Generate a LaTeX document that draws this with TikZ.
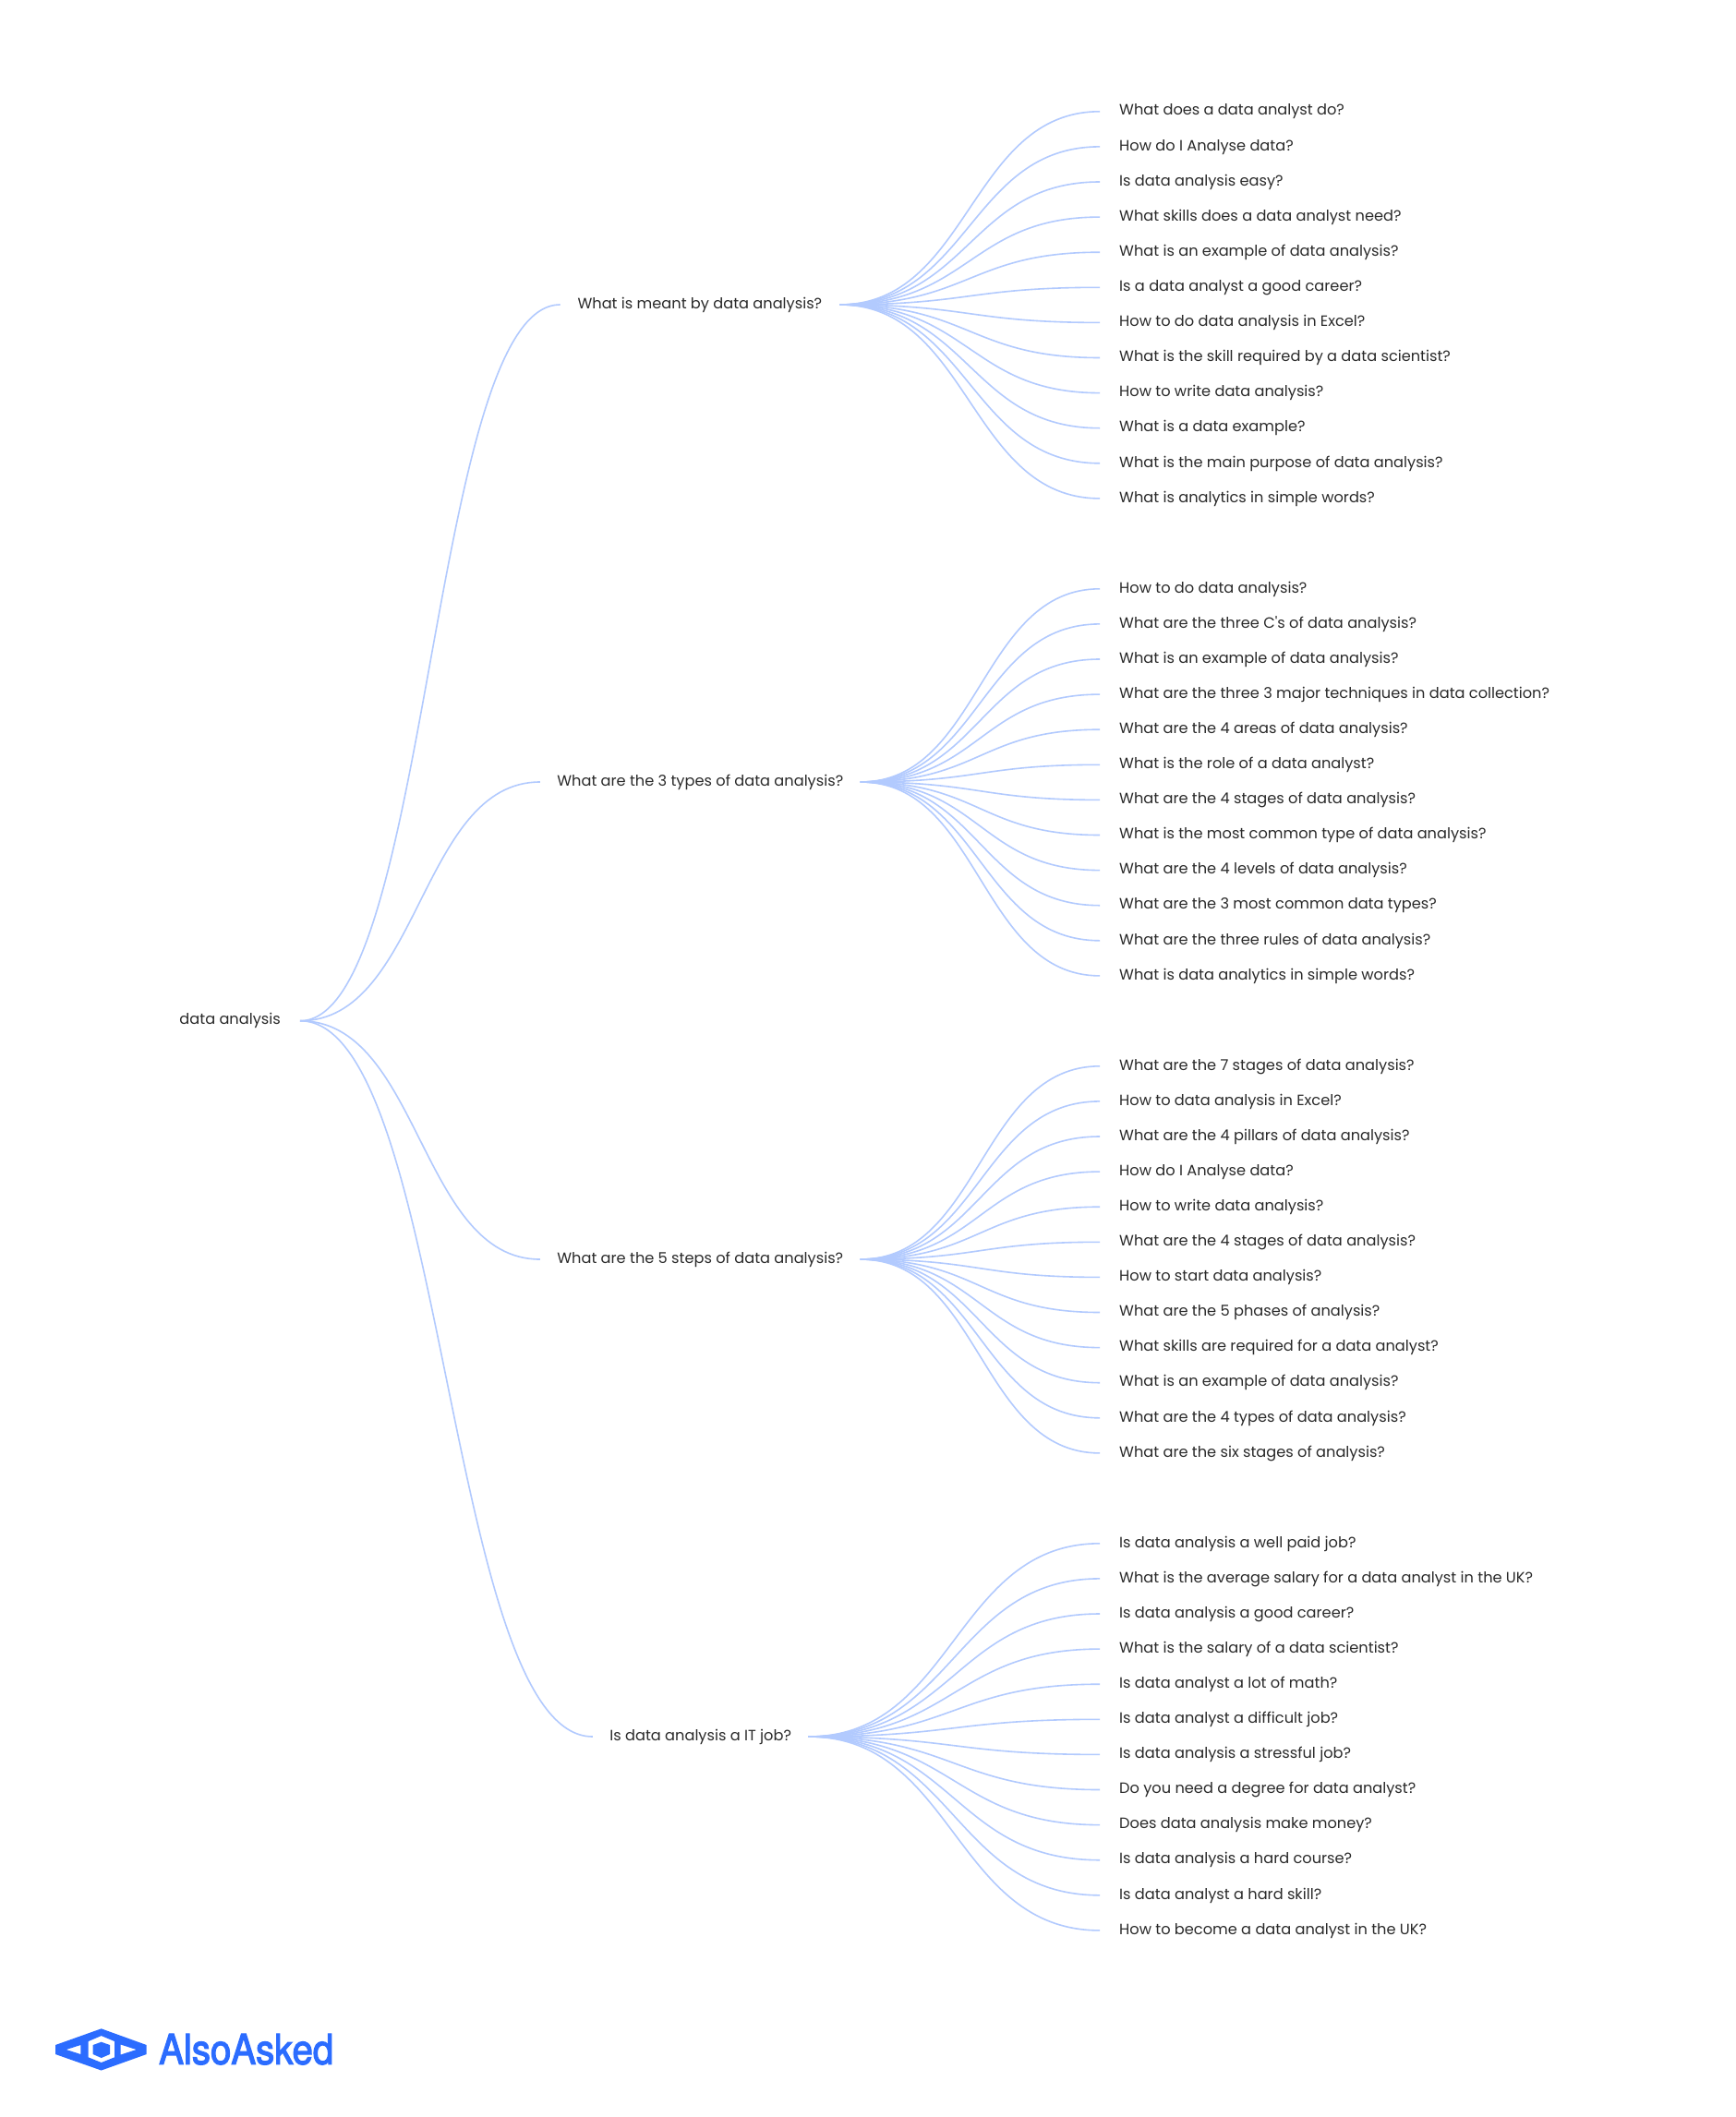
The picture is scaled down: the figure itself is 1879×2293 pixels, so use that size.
\documentclass[tikz,border=0pt]{standalone}
\usepackage{fontspec}
\usetikzlibrary{calc}
\setmainfont[Ligatures=TeXOff]{Poppins}
\newfontfamily\logofont[FakeBold=2.8]{TeX Gyre Heros}
\definecolor{linkblue}{HTML}{B2CAFE}
\definecolor{labelgrey}{HTML}{2A2A2A}
\definecolor{logoblue}{HTML}{2B6CFF}
\tikzset{
  x=1pt,y=-1pt,
  link/.style={draw=linkblue,line width=1.6pt},
  label/.style={font=\fontsize{16.2}{20}\selectfont,text=labelgrey,inner ysep=0pt,inner xsep=21pt,text height=13pt,text depth=4.6pt},
  leafbox/.style={label,anchor=west},
  parentbox/.style={label,anchor=center,align=center,inner xsep=0pt},
  rootbox/.style={label,anchor=east},
  logofill/.style={fill=logoblue,draw=none}
}
\newcommand\linkpair[2]{%
  \draw[link] let \p1=(#1.east),\p2=(#2.west),\p3=($(\p1)!.5!(\p2)$) in (\p1) .. controls (\x3,\y1) and (\x3,\y2) .. (\p2);%
}
\newcommand\leafgroup[3]{%
  \foreach \t [count=\i] in {#3} {%
    \pgfmathsetmacro\yy{#2+(\i-1)*38.1}
    \node[leafbox] (#1-\i) at (1191,\yy) {\t};
    \linkpair{#1}{#1-\i}
  }%
}
\begin{document}
\begin{tikzpicture}
\useasboundingbox (0,0) rectangle (1879,2293);
\fill[white] (0,0) rectangle (1879,2293);

\node[rootbox] (root) at (325,1105.7) {data analysis};
\node[parentbox,minimum width=302.3pt] (p1) at (757.9,330) {What is meant by data analysis?};
\node[parentbox,minimum width=346.6pt] (p2) at (758.3,847) {What are the 3 types of data analysis?};
\node[parentbox,minimum width=346.6pt] (p3) at (758.3,1364) {What are the 5 steps of data analysis?};
\node[parentbox,minimum width=233.4pt] (p4) at (758.7,1881) {Is data analysis a IT job?};
\linkpair{root}{p1}
\linkpair{root}{p2}
\linkpair{root}{p3}
\linkpair{root}{p4}

\leafgroup{p1}{120.8}{What does a data analyst do?,How do I Analyse data?,Is data analysis easy?,What skills does a data analyst need?,What is an example of data analysis?,Is a data analyst a good career?,How to do data analysis in Excel?,What is the skill required by a data scientist?,How to write data analysis?,What is a data example?,What is the main purpose of data analysis?,What is analytics in simple words?}
\leafgroup{p2}{637.8}{How to do data analysis?,What are the three C's of data analysis?,What is an example of data analysis?,What are the three 3 major techniques in data collection?,What are the 4 areas of data analysis?,What is the role of a data analyst?,What are the 4 stages of data analysis?,What is the most common type of data analysis?,What are the 4 levels of data analysis?,What are the 3 most common data types?,What are the three rules of data analysis?,What is data analytics in simple words?}
\leafgroup{p3}{1154.8}{What are the 7 stages of data analysis?,How to data analysis in Excel?,What are the 4 pillars of data analysis?,How do I Analyse data?,How to write data analysis?,What are the 4 stages of data analysis?,How to start data analysis?,What are the 5 phases of analysis?,What skills are required for a data analyst?,What is an example of data analysis?,What are the 4 types of data analysis?,What are the six stages of analysis?}
\leafgroup{p4}{1671.8}{Is data analysis a well paid job?,What is the average salary for a data analyst in the UK?,Is data analysis a good career?,What is the salary of a data scientist?,Is data analyst a lot of math?,Is data analyst a difficult job?,Is data analysis a stressful job?,Do you need a degree for data analyst?,Does data analysis make money?,Is data analysis a hard course?,Is data analyst a hard skill?,How to become a data analyst in the UK?}

% logo
\fill[logofill,even odd rule]
  (60,2215) -- (109.7,2197.3) -- (158.7,2215) -- (158.7,2225) -- (109.7,2242.5) -- (60,2225) -- cycle
  (71.7,2220) -- (87.3,2215) -- (87.3,2225) -- cycle
  (130.7,2214.5) -- (147.7,2220) -- (130.7,2225.5) -- cycle
  (109.7,2205) -- (124,2211) -- (124,2228.3) -- (109.7,2234) -- (95.7,2228.3) -- (95.7,2211) -- cycle;
\fill[logofill] (109.7,2211.7) -- (119,2215) -- (119,2225) -- (109.7,2229) -- (100.7,2225) -- (100.7,2215) -- cycle;
\node[anchor=base west,inner sep=0pt,text=logoblue] (logotext) at (172,2235.7) {\resizebox{189pt}{32.8pt}{\logofont AlsoAsked}};
\end{tikzpicture}
\end{document}
